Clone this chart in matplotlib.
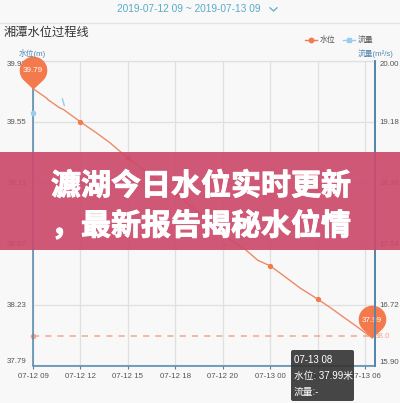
import numpy as np
import matplotlib
matplotlib.use('Agg')
import matplotlib.pyplot as plt
import matplotlib.patheffects as pe
from matplotlib.patches import Rectangle, FancyBboxPatch
from matplotlib.path import Path

plt.rcParams['font.family'] = ['Liberation Sans', 'Noto Sans CJK SC', 'DejaVu Sans']

# Data (x = position in tick slots)
tick_labels = ['07-12 09', '07-12 12', '07-12 15', '07-12 18', '07-12 20', '07-13 00', '07-13 03', '07-13 06']
left_ticks = [37.79, 38.23, 38.67, 39.11, 39.55, 39.99]
right_ticks = [15.90, 16.72, 17.54, 18.36, 19.18, 20.00]
level_x = [0, .295, .316, .57, .64, 1.0, 1.34, 1.62, 1.79, 2.0, 3.0, 3.16, 4.0, 4.15, 4.47, 4.74, 5.0, 5.24, 5.63, 6.0, 6.26, 6.75, 7.15]
level_y = [39.79, 39.72, 39.71, 39.65, 39.64, 39.55, 39.47, 39.40, 39.35, 39.29, 39.03, 38.99, 38.75, 38.70, 38.63, 38.55, 38.51, 38.45, 38.35, 38.27, 38.21, 38.09, 37.99]
marker_idx = [5, 9, 10, 12, 16, 19]
flow_dot_x, flow_dot_y = [0], [19.30]
flow_seg_x, flow_seg_y = [.62, .66], [19.49, 19.40]
warn_level = 38.0
pin_labels = ['39.79', '37.99']
tip_text = ['07-13 08', '水位: 37.99米', '流量:-']

W, H = 400, 403
BG = '#f8f8f8'
ORANGE = '#f4794c'
BLUE = '#4f86ad'
LBLUE = '#9accec'
GRID = '#e0e0e0'
TEAL = '#5aabc9'
TXT = '#555555'

fig = plt.figure(figsize=(W / 100, H / 100), dpi=100, facecolor=BG)
def fx(p): return p / W
def fy(p): return 1 - p / H

L, R, T, B = 33, 375, 61, 365.5
ax = fig.add_axes([fx(L), fy(B), (R - L) / W, (B - T) / H], facecolor=BG)
ax.set_xlim(0, (R - L) / 47.43)
ax.set_ylim(37.79, 39.99)
ax.set_xticks(range(8), tick_labels)
ax.set_yticks(left_ticks, [f'{v:.2f}' for v in left_ticks])
ax.grid(True, color=GRID, lw=0.9)
ax.set_axisbelow(True)
ax.tick_params(axis='x', labelsize=5.7, labelcolor=TXT, color=BLUE, length=2.5, width=0.8, pad=3)
ax.tick_params(axis='y', labelsize=5.7, labelcolor=TXT, length=0, pad=4.5)
for s, c, w in (('left', BLUE, 1.1), ('bottom', BLUE, 1.1), ('right', BLUE, 1.1), ('top', GRID, 0.9)):
    ax.spines[s].set_color(c)
    ax.spines[s].set_linewidth(w)

ax2 = ax.twinx()
ax2.set_ylim(15.90, 20.00)
ax2.set_yticks(right_ticks, [f'{v:.2f}' for v in right_ticks])
ax2.tick_params(axis='y', labelsize=5.7, labelcolor=TXT, length=0, pad=3.5)
ax2.spines['right'].set_color(BLUE)
ax2.spines['right'].set_linewidth(1.3)
ax2.spines['left'].set_visible(False)
ax2.spines['top'].set_visible(False)
ax2.spines['bottom'].set_visible(False)
ax2.plot(flow_dot_x, flow_dot_y, 'o', color=LBLUE, ms=3, clip_on=False)
ax2.plot(flow_seg_x, flow_seg_y, color=LBLUE, lw=1)

# End labels on both value axes sit inside the plot's height
for a in (ax, ax2):
    labs = a.get_yticklabels()
    labs[0].set_va('bottom')
    labs[-1].set_va('top')

ax.axhline(warn_level, color='#f4a58c', lw=1.1, dashes=(4, 4))
ax.plot([0], [warn_level], 'o', color='#f4a58c', ms=3, clip_on=False)
ax.text(7.21, warn_level, '38.0', color='#f4a58c', fontsize=5.7, va='center', ha='left', clip_on=False)
ax.plot(level_x, level_y, color='#ee8a66', lw=1.0, marker='o', ms=2.8, mfc=ORANGE, mec=ORANGE,
        markevery=marker_idx, zorder=4)

# Pin markers
r, cy = 13.8, 19.0
a0 = np.arccos(r / cy)
th = np.linspace(-np.pi / 2 + a0, 3 * np.pi / 2 - a0, 60)
vx = np.r_[0, r * np.cos(th), 0]
vy = np.r_[0, cy + r * np.sin(th), 0]
pin = Path(np.c_[vx, vy])
ms = 2 * (cy + r) * 0.72
for i, lab in zip((0, -1), pin_labels):
    xx, yy = level_x[i], level_y[i]
    ax.plot([xx], [yy], marker=pin, ms=ms, color=ORANGE, mew=0, clip_on=False, zorder=6, ls='none')
    ax.annotate(lab, (xx, yy), xytext=(0, 12.8), textcoords='offset points', ha='center', va='center',
                color='#fff', fontsize=5.8, zorder=7, annotation_clip=False)

# Header
fig.text(fx(188.5), fy(8.5), '2019-07-12 09 ~ 2019-07-13 09', color=TEAL, fontsize=7.3, ha='center', va='center')
fig.add_artist(plt.Line2D([fx(270), fx(273.5), fx(277)], [fy(7.8), fy(11), fy(7.8)], color=TEAL, lw=0.9))
fig.add_artist(plt.Line2D([0, 1], [fy(22.5), fy(22.5)], color='#e2e2e2', lw=0.9))
fig.text(fx(4), fy(33), '湘潭水位过程线', color='#333333', fontsize=8.8, ha='left', va='center')

# Legend
fig.add_artist(plt.Line2D([fx(305), fx(317)], [fy(40), fy(40)], color=ORANGE, lw=1))
fig.add_artist(plt.Line2D([fx(311)], [fy(40)], color=ORANGE, marker='o', ms=3.2))
fig.text(fx(320), fy(40), '水位', color=TXT, fontsize=5.7, ha='left', va='center')
fig.add_artist(plt.Line2D([fx(343), fx(355)], [fy(40), fy(40)], color=LBLUE, lw=1))
fig.add_artist(plt.Line2D([fx(349)], [fy(40)], color=LBLUE, marker='s', ms=3))
fig.text(fx(358), fy(40), '流量', color=TXT, fontsize=5.7, ha='left', va='center')
fig.text(fx(32.5), fy(54), '水位(m)', color=BLUE, fontsize=5.6, ha='center', va='center')
fig.text(fx(375.5), fy(54), '流量(m²/s)', color=BLUE, fontsize=5.6, ha='center', va='center')

# Banner
fig.add_artist(Rectangle((0, fy(250)), 1, (250 - 152) / H, transform=fig.transFigure,
                         facecolor='#cc4a6c', alpha=0.92, edgecolor='none', zorder=10))
for txt, py in (('瀌湖今日水位实时更新', 186), ('，最新报告揭秘水位情', 226)):
    t = fig.text(fx(201), fy(py), txt, color='white', fontsize=21.6, fontweight='bold', ha='center', va='center',
                 family=['Noto Sans CJK SC', 'DejaVu Sans'], zorder=11)
    t.set_path_effects([pe.withStroke(linewidth=0.7, foreground='white')])

# Tooltip
fig.add_artist(FancyBboxPatch((291, H - 401), 63, 51, boxstyle='round,pad=0,rounding_size=2',
                              transform=None, facecolor='#333333', alpha=0.9, edgecolor='none', zorder=12))
for txt, py in zip(tip_text, (360, 375.5, 391.5)):
    fig.text(fx(293.5), fy(py), txt, color='white', fontsize=7, ha='left', va='center', zorder=13)

fig.savefig('out.png', dpi=100, facecolor=BG)
